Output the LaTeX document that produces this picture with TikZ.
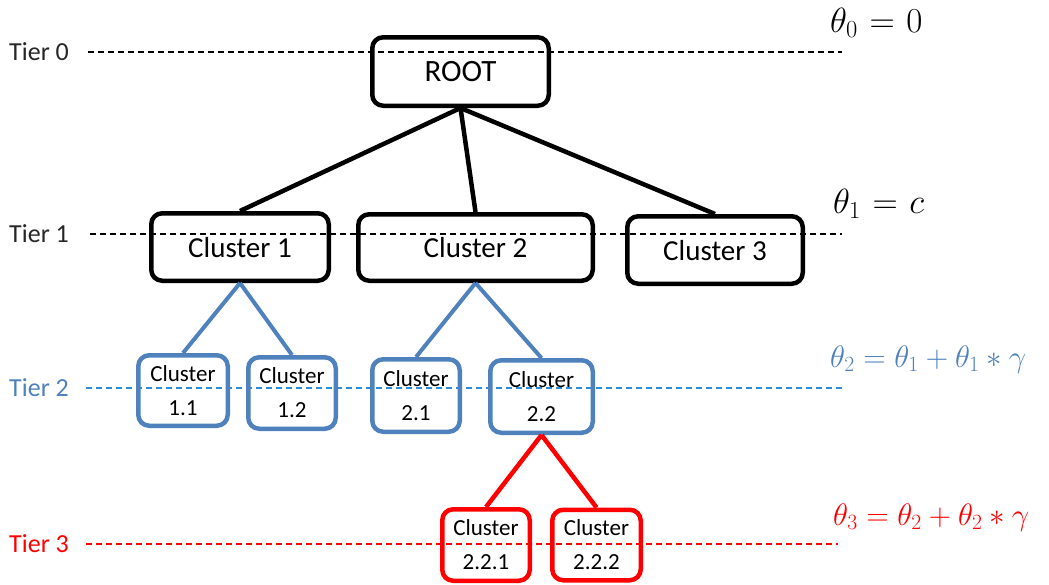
\RequirePackage{fix-cm}
\documentclass[tikz,border=0pt]{standalone}
\usepackage{fontspec}
\setmainfont{Carlito}
\definecolor{tblue}{RGB}{79,129,189}
\definecolor{lblue}{RGB}{45,140,215}
\definecolor{tred}{RGB}{255,0,0}
\newcommand{\wideformula}[1]{\thickmuskip=6mu\relax\medmuskip=5mu\relax$#1$}
\begin{document}
\begin{tikzpicture}[x=1pt,y=-1pt,
  bigbox/.style={draw=black, line width=4.5pt, rounded corners=11pt, inner sep=0pt,
    font=\fontsize{29}{33}\selectfont, text depth=0pt},
  bluebox/.style={draw=tblue, line width=4.5pt, rounded corners=11pt, inner sep=0pt,
    align=center, font=\fontsize{23}{34}\selectfont},
  redbox/.style={bluebox, draw=tred},
  blackedge/.style={draw=black, line width=4.5pt},
  blueedge/.style={draw=tblue, line width=4pt},
  rededge/.style={draw=tred, line width=4.5pt},
  tierline/.style={line width=1.2pt, dash pattern=on 6pt off 4pt},
  tierlab/.style={anchor=west, inner sep=0pt, font=\fontsize{26}{30}\selectfont},
  formula/.style={anchor=base west, inner sep=0pt, font=\fontsize{35}{40}\selectfont},
  longformula/.style={anchor=base west, inner sep=0pt, font=\fontsize{31}{36}\selectfont}
]
\useasboundingbox (0,0) rectangle (1049,584);

% tier lines
\coordinate (t0a) at (88,52);  \coordinate (t0b) at (842,52);
\coordinate (t1a) at (90,234); \coordinate (t1b) at (842,234);
\coordinate (t2a) at (86,388); \coordinate (t2b) at (842,388);
\coordinate (t3a) at (86,544); \coordinate (t3b) at (838,544);
\draw[tierline, black] (t0a) -- (t0b);
\draw[tierline, black] (t1a) -- (t1b);
\draw[tierline, lblue] (t2a) -- (t2b);
\draw[tierline, tred] (t3a) -- (t3b);

\node[tierlab, text=black!85] (l0) at (9,52) {Tier 0};
\node[tierlab, text=black!85] (l1) at (9,234) {Tier 1};
\node[tierlab, text=tblue] (l2) at (9,388) {Tier 2};
\node[tierlab, text=tred] (l3) at (9,544) {Tier 3};

\node[formula] (f0) at (830,32) {\wideformula{\theta_0 = 0}};
\node[formula] (f1) at (833,213) {\wideformula{\theta_1 = c}};
\node[longformula, text=tblue] (f2) at (830,367) {$\theta_2 = \theta_1 + \theta_1 * \gamma$};
\node[longformula, text=tred] (f3) at (833,525) {$\theta_3 = \theta_2 + \theta_2 * \gamma$};

% tier 0 and 1
\node[bigbox, minimum width=176.5pt, minimum height=68.5pt, font=\fontsize{31}{35}\selectfont] (root) at (460.5,71.5) {ROOT};
\node[bigbox, minimum width=177.5pt, minimum height=67.5pt] (c1) at (240,247) {Cluster 1};
\node[bigbox, minimum width=234.5pt, minimum height=66.5pt] (c2) at (475.5,247.5) {Cluster 2};
\node[bigbox, minimum width=175.5pt, minimum height=67.5pt] (c3) at (715,250) {Cluster 3};

% tier 2
\node[bluebox, minimum width=89.5pt, minimum height=70.5pt] (c11) at (183,390.5) {Cluster\\1.1};
\node[bluebox, minimum width=87.5pt, minimum height=71.5pt] (c12) at (292,393) {Cluster\\1.2};
\node[bluebox, minimum width=87.5pt, minimum height=72.5pt] (c21) at (416,395.5) {Cluster\\2.1};
\node[bluebox, minimum width=102.5pt, minimum height=72.5pt] (c22) at (541.5,396.5) {Cluster\\2.2};

% tier 3
\node[redbox, minimum width=87.5pt, minimum height=71.5pt] (c221) at (486,545) {Cluster\\2.2.1};
\node[redbox, minimum width=88.5pt, minimum height=70.5pt] (c222) at (596.5,545) {Cluster\\2.2.2};

% connectors
\draw[blackedge] (root.south) -- (c1.north);
\draw[blackedge] (root.south) -- (c2.north);
\draw[blackedge] (root.south) -- (c3.north);
\draw[blueedge] (c1.south) -- (c11.north);
\draw[blueedge] (c1.south) -- (c12.north);
\draw[blueedge] (c2.south) -- (c21.north);
\draw[blueedge] (c2.south) -- (c22.north);
\draw[rededge] (c22.south) -- (c221.north);
\draw[rededge] (c22.south) -- (c222.north);
\end{tikzpicture}
\end{document}
